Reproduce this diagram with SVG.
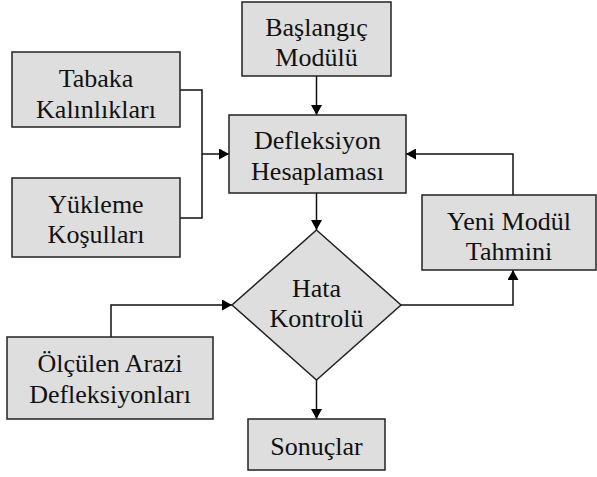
<svg xmlns="http://www.w3.org/2000/svg" width="597" height="477" viewBox="0 0 597 477">
<defs>
<marker id="arr" markerUnits="userSpaceOnUse" markerWidth="11" markerHeight="11" refX="10" refY="5.5" orient="auto">
<path d="M0,0 L10,5.5 L0,11 z" fill="#000"/>
</marker>
<style>
.box{fill:#dedede;stroke:#222;stroke-width:1.5}
.t{fill:#111;text-anchor:middle}
.c{fill:none;stroke:#111;stroke-width:1.5}
</style>
</defs>
<rect width="597" height="477" fill="#fff"/>
<g id="connectors">
<path class="c" d="M180,90 H202 V218 H180"/>
<path class="c" d="M202,154 H229" marker-end="url(#arr)"/>
<path class="c" d="M316.5,76 V115" marker-end="url(#arr)"/>
<path class="c" d="M316.5,193 V230" marker-end="url(#arr)"/>
<path class="c" d="M401,305 H513 V270" marker-end="url(#arr)"/>
<path class="c" d="M513,195 V154 H406" marker-end="url(#arr)"/>
<path class="c" d="M111,337 V305 H232" marker-end="url(#arr)"/>
<path class="c" d="M316.5,380 V419" marker-end="url(#arr)"/>
</g>
<g id="baslangic">
<rect class="box" x="242" y="2" width="149" height="74"/>
<text class="t" style="font-family:'Liberation Serif',serif;font-size:26px" x="316.5" y="36">Başlangıç</text>
<text class="t" style="font-family:'Liberation Serif',serif;font-size:26px" x="316.5" y="66">Modülü</text>
</g>
<g id="tabaka">
<rect class="box" x="12" y="52" width="168" height="75"/>
<text class="t" style="font-family:'Liberation Serif',serif;font-size:26px" x="96" y="87">Tabaka</text>
<text class="t" style="font-family:'Liberation Serif',serif;font-size:26px" x="96" y="118">Kalınlıkları</text>
</g>
<g id="yukleme">
<rect class="box" x="12" y="178" width="168" height="79"/>
<text class="t" style="font-family:'Liberation Serif',serif;font-size:26px" x="96" y="213">Yükleme</text>
<text class="t" style="font-family:'Liberation Serif',serif;font-size:26px" x="96" y="243">Koşulları</text>
</g>
<g id="defleksiyon">
<rect class="box" x="229" y="115" width="177" height="78"/>
<text class="t" style="font-family:'Liberation Serif',serif;font-size:26px" x="317.5" y="149">Defleksiyon</text>
<text class="t" style="font-family:'Liberation Serif',serif;font-size:26px" x="317.5" y="180">Hesaplaması</text>
</g>
<g id="yeni">
<rect class="box" x="422" y="195" width="174" height="75"/>
<text class="t" style="font-family:'Liberation Serif',serif;font-size:26px" x="509" y="230">Yeni Modül</text>
<text class="t" style="font-family:'Liberation Serif',serif;font-size:26px" x="509" y="260">Tahmini</text>
</g>
<g id="hata">
<polygon class="box" points="316.5,230 401,305 316.5,380 232,305"/>
<text class="t" style="font-family:'Liberation Serif',serif;font-size:26px" x="316.5" y="297">Hata</text>
<text class="t" style="font-family:'Liberation Serif',serif;font-size:26px" x="316.5" y="327">Kontrolü</text>
</g>
<g id="olculen">
<rect class="box" x="7" y="337" width="206" height="82"/>
<text class="t" style="font-family:'Liberation Serif',serif;font-size:26px" x="110" y="372">Ölçülen Arazi</text>
<text class="t" style="font-family:'Liberation Serif',serif;font-size:26px" x="110" y="403">Defleksiyonları</text>
</g>
<g id="sonuclar">
<rect class="box" x="248" y="419" width="137" height="51"/>
<text class="t" style="font-family:'Liberation Serif',serif;font-size:26px" x="316.5" y="455">Sonuçlar</text>
</g>
</svg>
